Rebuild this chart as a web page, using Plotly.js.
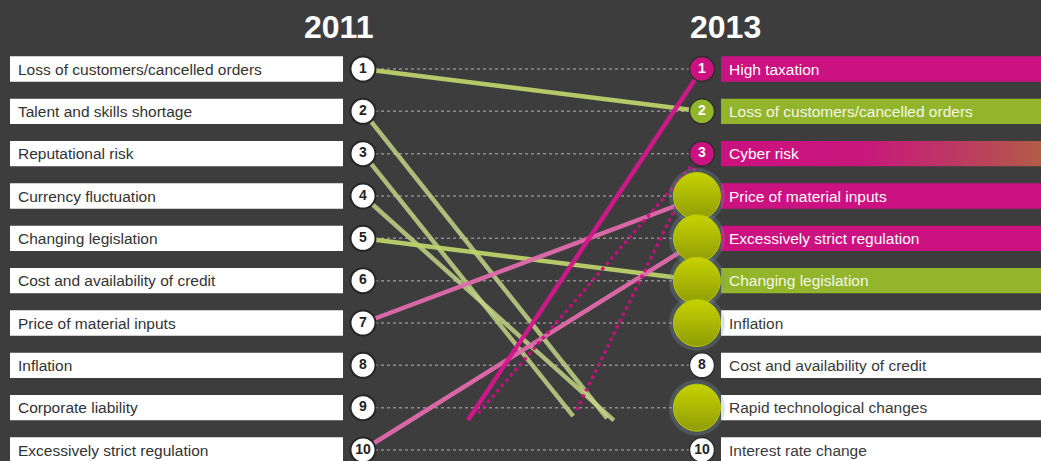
<!DOCTYPE html>
<html>
<head>
<meta charset="utf-8">
<script src="https://cdn.plot.ly/plotly-3.0.1.min.js"></script>
<style>
html,body{margin:0;padding:0;background:#3d3d3d;}
#chart{width:1041px;height:461px;}
</style>
</head>
<body>
<div id="chart"></div>
<script>
// ---------------- DATA ----------------
const years = ['2011', '2013'];
const ranks = [1, 2, 3, 4, 5, 6, 7, 8, 9, 10];
const labels2011 = [
  'Loss of customers/cancelled orders',
  'Talent and skills shortage',
  'Reputational risk',
  'Currency fluctuation',
  'Changing legislation',
  'Cost and availability of credit',
  'Price of material inputs',
  'Inflation',
  'Corporate liability',
  'Excessively strict regulation'
];
const labels2013 = [
  'High taxation',
  'Loss of customers/cancelled orders',
  'Cyber risk',
  'Price of material inputs',
  'Excessively strict regulation',
  'Changing legislation',
  'Inflation',
  'Cost and availability of credit',
  'Rapid technological changes',
  'Interest rate change'
];
// movement category of each 2013 entry
const status2013 = ['new', 'down', 'new', 'up', 'up', 'down', 'same', 'same', 'same', 'same'];
// highlighted 2013 ranks (big round markers)
const highlighted2013 = [4, 5, 6, 7, 9];

// connectors: position along the 2011 -> 2013 axis (0 = 2011, 1 = 2013) and rank
const linkNames    = ['Loss of customers/cancelled orders', 'Talent and skills shortage', 'Reputational risk', 'Currency fluctuation', 'Changing legislation', 'Price of material inputs', 'Excessively strict regulation', 'High taxation', 'Cyber risk', 'Cyber risk'];
const linkFromPos  = [0, 0, 0, 0, 0, 0, 0, 0.31, 0.34, 0.63];
const linkFromRank = [1, 2, 3, 4, 5, 7, 10, 9.29, 9.13, 9.06];
const linkToPos    = [1, 0.72, 0.62, 0.74, 1, 1, 1, 1, 1, 1];
const linkToRank   = [2, 9.25, 9.2, 9.3, 6, 4, 5, 1, 3, 3];
const linkKind     = ['down', 'out', 'out', 'out', 'down', 'up', 'up', 'new', 'newdot', 'newdot'];

// ---------------- STYLE ----------------
const BG = '#3d3d3d';
const PINK = '#cc1181';
const GREEN = '#93b52c';
const FONT = '"Liberation Sans", Arial, sans-serif';
const barFill = {new: PINK, up: PINK, down: GREEN, same: '#ffffff'};
const barText = {new: '#ffffff', up: '#ffffff', down: '#f4f7e6', same: '#3a3a3a'};
const circFill = {new: PINK, up: PINK, down: GREEN, same: '#ffffff'};
const linkStyle = {
  down:   {color: '#bdd16c', width: 4.5, dash: 'solid', opacity: 0.95},
  out:    {color: '#c3d486', width: 4.5, dash: 'solid', opacity: 0.85},
  up:     {color: '#e06aab', width: 4.5, dash: 'solid', opacity: 0.95},
  new:    {color: '#d4168c', width: 4.5, dash: 'solid', opacity: 0.95},
  newdot: {color: '#c8107f', width: 3.5, dash: 'dot', opacity: 0.9}
};

// pixel geometry -> axis ranges (2011 column at 363px, 2013 column at 702px)
const X_RANGE = [-363 / 339, (1041 - 363) / 339];
const Y_RANGE = [10 + 11 / 42.333, 1 - 69 / 42.333];
const HALF = 0.3;
const LBOX = [(10 - 363) / 339, (343 - 363) / 339];
const RBOX = [(721 - 363) / 339, 2.1];
const LTEXT = (16 - 363) / 339;
const RTEXT = (727 - 363) / 339;

const shapes = [];
const annotations = [];
const traces = [];

// dotted guide lines
ranks.forEach(r => {
  shapes.push({type: 'line', xref: 'x', yref: 'y', x0: 0, x1: 1, y0: r, y1: r,
    line: {color: '#8d8d8d', width: 1.5, dash: 'dot'}, layer: 'below'});
});

// left boxes + labels
labels2011.forEach((lab, i) => {
  const r = ranks[i];
  shapes.push({type: 'rect', xref: 'x', yref: 'y', x0: LBOX[0], x1: LBOX[1], y0: r - HALF, y1: r + HALF,
    fillcolor: '#ffffff', line: {width: 0}, layer: 'below'});
  annotations.push({xref: 'x', yref: 'y', x: LTEXT, y: r, text: lab, showarrow: false,
    xanchor: 'left', yanchor: 'middle', font: {family: FONT, size: 15.5, color: '#333333'}});
});

// right bars + labels
labels2013.forEach((lab, i) => {
  const r = ranks[i];
  const st = status2013[i];
  if (lab === 'Cyber risk') {
    traces.push({type: 'scatter', mode: 'lines', hoverinfo: 'skip', showlegend: false,
      x: [RBOX[0], RBOX[1], RBOX[1], RBOX[0], RBOX[0]],
      y: [r - HALF, r - HALF, r + HALF, r + HALF, r - HALF],
      fill: 'toself', line: {width: 0, color: 'rgba(0,0,0,0)'},
      fillgradient: {type: 'horizontal', colorscale: [[0, PINK], [0.4, '#c8177c'], [0.75, '#b9445a'], [1, '#b06c3a']]}
    });
  } else {
    shapes.push({type: 'rect', xref: 'x', yref: 'y', x0: RBOX[0], x1: RBOX[1], y0: r - HALF, y1: r + HALF,
      fillcolor: barFill[st], line: {width: 0}, layer: 'below'});
  }
  annotations.push({xref: 'x', yref: 'y', x: RTEXT, y: r, text: lab, showarrow: false,
    xanchor: 'left', yanchor: 'middle', font: {family: FONT, size: 15.5, color: barText[st]}});
});

// connector lines
linkNames.forEach((nm, i) => {
  const s = linkStyle[linkKind[i]];
  traces.push({type: 'scatter', mode: 'lines', name: nm, hoverinfo: 'name', showlegend: false,
    x: [linkFromPos[i], linkToPos[i]], y: [linkFromRank[i], linkToRank[i]],
    opacity: s.opacity, line: {color: s.color, width: s.width, dash: s.dash}});
});

// 2011 circles
traces.push({type: 'scatter', mode: 'markers+text', showlegend: false, hoverinfo: 'text',
  hovertext: labels2011,
  x: ranks.map(() => 0), y: ranks, text: ranks.map(String), textposition: 'middle center',
  textfont: {family: FONT, size: 14, color: '#222222', weight: 'bold'},
  marker: {size: 25, color: '#ffffff', line: {color: '#262626', width: 2}}});

// 2013 circles
traces.push({type: 'scatter', mode: 'markers+text', showlegend: false, hoverinfo: 'text',
  hovertext: labels2013,
  x: ranks.map(() => 1), y: ranks, text: ranks.map(String), textposition: 'middle center',
  textfont: {family: FONT, size: 14, weight: 'bold', color: status2013.map(s => s === 'same' ? '#222222' : '#ffffff')},
  marker: {size: 25, color: status2013.map(s => circFill[s]), line: {color: '#2e2e2e', width: 1.5}}});

// highlight halo + big circles
traces.push({type: 'scatter', mode: 'markers', showlegend: false, hoverinfo: 'skip',
  x: highlighted2013.map(() => 0.985), y: highlighted2013,
  marker: {size: 56, color: 'rgba(120,150,170,0.28)', line: {width: 0}}});
traces.push({type: 'scatter', mode: 'markers', showlegend: false, hoverinfo: 'text',
  hovertext: highlighted2013.map(r => labels2013[r - 1]),
  x: highlighted2013.map(() => 0.985), y: highlighted2013,
  marker: {size: 47, color: '#c6d300', gradient: {type: 'vertical', color: '#8f9c08'},
    line: {color: '#b9c800', width: 1}}});

// year titles
annotations.push({xref: 'x', yref: 'y', x: -0.071, y: 0.0, text: '<b>' + years[0] + '</b>', showarrow: false,
  xanchor: 'center', yanchor: 'middle', font: {family: FONT, size: 32, color: '#ffffff'}});
annotations.push({xref: 'x', yref: 'y', x: 1.068, y: 0.0, text: '<b>' + years[1] + '</b>', showarrow: false,
  xanchor: 'center', yanchor: 'middle', font: {family: FONT, size: 32, color: '#ffffff'}});

const layout = {
  width: 1041, height: 461,
  margin: {l: 0, r: 0, t: 0, b: 0, pad: 0},
  paper_bgcolor: BG, plot_bgcolor: BG,
  xaxis: {range: X_RANGE, visible: false, fixedrange: true},
  yaxis: {range: Y_RANGE, visible: false, fixedrange: true},
  shapes: shapes, annotations: annotations, showlegend: false
};

Plotly.newPlot('chart', traces, layout, {displayModeBar: false, staticPlot: true});
</script>
</body>
</html>
